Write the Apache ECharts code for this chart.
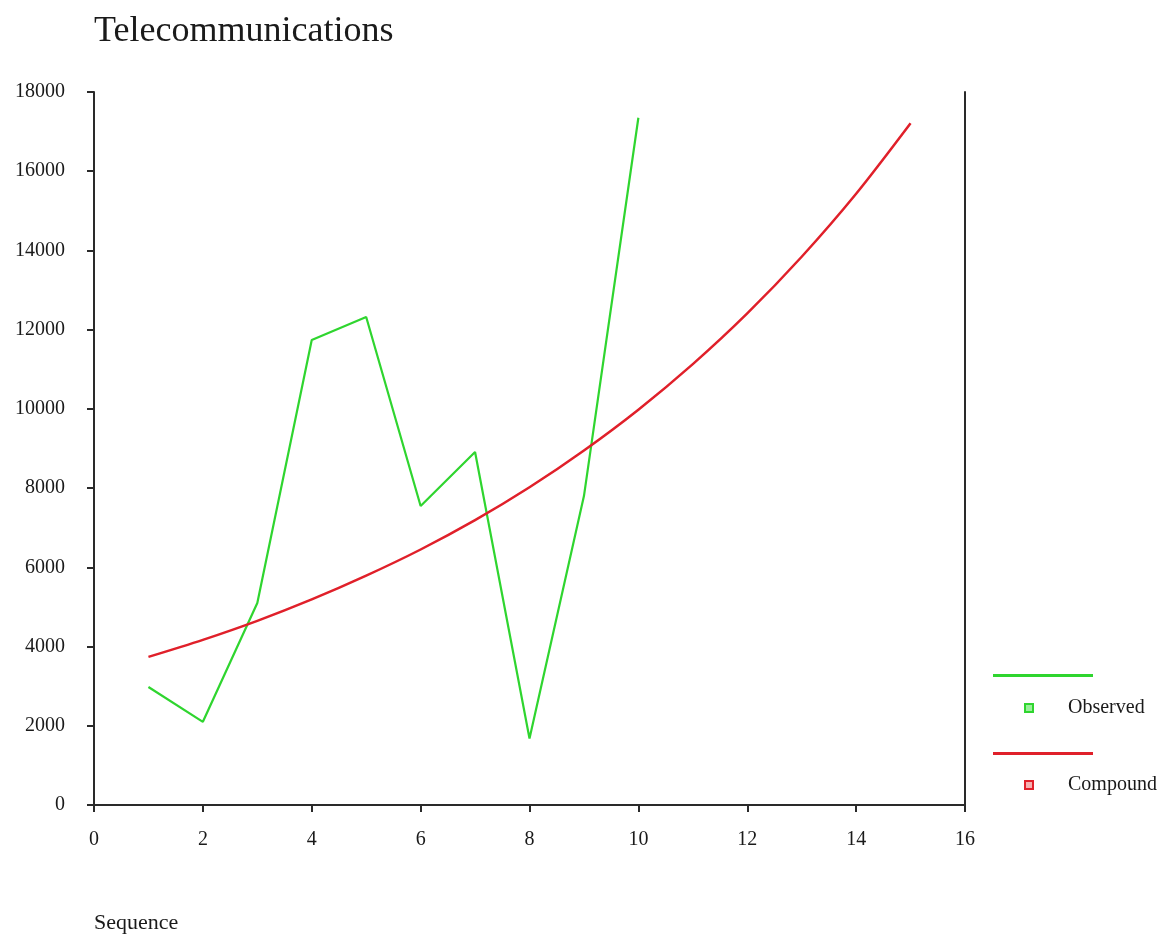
<!DOCTYPE html>
<html>
<head>
<meta charset="utf-8">
<script src="https://cdn.jsdelivr.net/npm/echarts@6/dist/echarts.min.js"></script>
<style>
html,body{margin:0;padding:0;background:#fff;}
#chart{width:1167px;height:945px;}
</style>
</head>
<body>
<div id="chart"></div>
<script>
const titleText = 'Telecommunications';
const xAxisTitle = 'Sequence';
const seriesNames = ['Observed', 'Compound'];
const observedX = [1, 2, 3, 4, 5, 6, 7, 8, 9, 10];
const observedY = [2980, 2100, 5100, 11740, 12320, 7550, 8910, 1680, 7800, 17350];
const compoundX = [1, 2, 3, 4, 5, 6, 7, 8, 9, 10, 11, 12, 13, 14, 15];
const compoundY = [3740, 4170, 4650, 5190, 5790, 6450, 7190, 8020, 8950, 9980, 11130, 12410, 13840, 15430, 17210];
const xTicks = { min: 0, max: 16, interval: 2 };
const yTicks = { min: 0, max: 18000, interval: 2000 };

const GREEN = '#2fd52f';
const RED = '#e0202a';
const SERIF = '"Liberation Serif", "DejaVu Serif", serif';
const AXIS = '#2a2a2a';

const chart = echarts.init(document.getElementById('chart'), null, { renderer: 'canvas' });

const option = {
  backgroundColor: '#ffffff',
  animation: false,
  title: [
    { text: titleText, left: 94, top: 14, padding: 0,
      textStyle: { fontFamily: SERIF, fontSize: 36, fontWeight: 'normal', color: '#1a1a1a' } },
    { text: xAxisTitle, left: 94, top: 912, padding: 0,
      textStyle: { fontFamily: SERIF, fontSize: 22, fontWeight: 'normal', color: '#1a1a1a' } }
  ],
  legend: [
    { orient: 'vertical', left: 993, top: 674, padding: 0, itemWidth: 100, itemHeight: 3, itemGap: 75,
      icon: 'rect', data: seriesNames, formatter: function () { return ''; },
      textStyle: { fontSize: 2, lineHeight: 2 }, selectedMode: false },
    { orient: 'vertical', left: 1024, top: 698, padding: 0, itemWidth: 8, itemHeight: 8, itemGap: 57,
      icon: 'rect', selectedMode: false,
      data: [
        { name: seriesNames[0], itemStyle: { color: '#9af09a', borderColor: GREEN, borderWidth: 2 } },
        { name: seriesNames[1], itemStyle: { color: '#f5b0b0', borderColor: RED, borderWidth: 2 } }
      ],
      textStyle: { fontFamily: SERIF, fontSize: 20, lineHeight: 20, color: '#1a1a1a', padding: [0, 0, 0, 30] } }
  ],
  grid: { left: 94, right: 202, top: 92, bottom: 140, containLabel: false },
  xAxis: {
    type: 'value', min: xTicks.min, max: xTicks.max, interval: xTicks.interval,
    axisLine: { show: true, onZero: false, lineStyle: { color: AXIS, width: 2 } },
    axisTick: { show: true, inside: false, length: 7, lineStyle: { color: AXIS, width: 2 } },
    axisLabel: { margin: 25, fontFamily: SERIF, fontSize: 20, color: '#1a1a1a' },
    splitLine: { show: false }
  },
  yAxis: [
    {
      type: 'value', min: yTicks.min, max: yTicks.max, interval: yTicks.interval,
      axisLine: { show: true, onZero: false, lineStyle: { color: AXIS, width: 2 } },
      axisTick: { show: true, inside: false, length: 7, lineStyle: { color: AXIS, width: 2 } },
      axisLabel: { margin: 29, fontFamily: SERIF, fontSize: 20, color: '#1a1a1a',
        formatter: function (v) { return String(v); } },
      splitLine: { show: false }
    },
    {
      type: 'value', position: 'right', min: yTicks.min, max: yTicks.max, interval: yTicks.interval,
      axisLine: { show: true, onZero: false, lineStyle: { color: AXIS, width: 2 } },
      axisTick: { show: false }, axisLabel: { show: false }, splitLine: { show: false }
    }
  ],
  series: [
    {
      name: seriesNames[0], type: 'line', yAxisIndex: 0,
      data: observedX.map((x, i) => [x, observedY[i]]),
      showSymbol: false, symbol: 'none',
      itemStyle: { color: GREEN },
      lineStyle: { color: GREEN, width: 2.2 }
    },
    {
      name: seriesNames[1], type: 'line', yAxisIndex: 0,
      data: compoundX.map((x, i) => [x, compoundY[i]]),
      showSymbol: false, symbol: 'none', smooth: 0.3,
      itemStyle: { color: RED },
      lineStyle: { color: RED, width: 2.5 }
    }
  ]
};
chart.setOption(option);
</script>
</body>
</html>
